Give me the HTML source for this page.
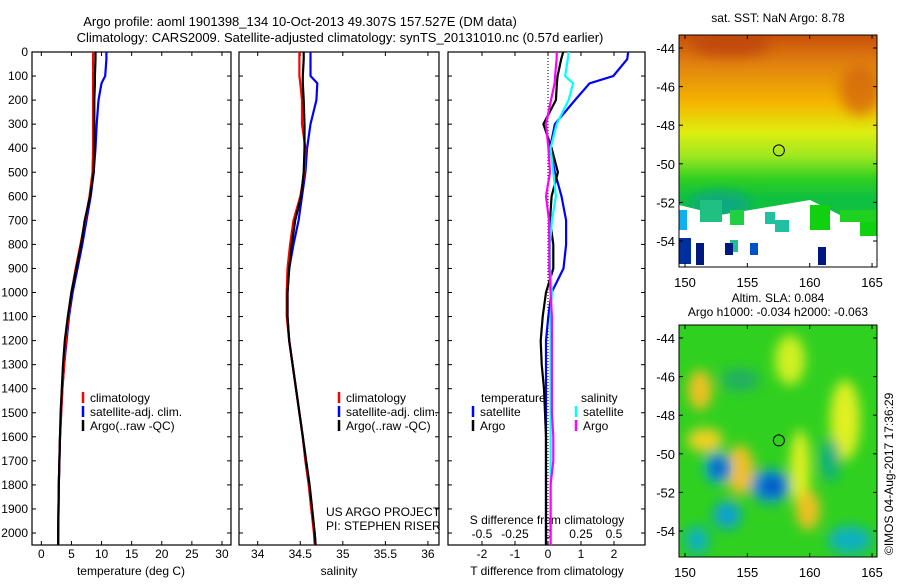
<!DOCTYPE html>
<html><head><meta charset="utf-8"><style>
body{margin:0;background:#fff;width:900px;height:580px;overflow:hidden}
svg{font-family:"Liberation Sans",sans-serif;font-size:12px}
</style></head><body>
<svg id="s" width="900" height="580" viewBox="0 0 900 580">
<defs>
<linearGradient id="sstg" x1="0" y1="0" x2="0" y2="1">
<stop offset="0" stop-color="#c8500a"/><stop offset="0.12" stop-color="#e08010"/><stop offset="0.3" stop-color="#f5b800"/><stop offset="0.42" stop-color="#ddee10"/><stop offset="0.52" stop-color="#a0e820"/><stop offset="0.62" stop-color="#30d020"/><stop offset="0.7" stop-color="#10c040"/>
</linearGradient>
<filter id="bl" x="-50%" y="-50%" width="200%" height="200%"><feGaussianBlur stdDeviation="6"/></filter>
<clipPath id="c1"><rect x="679" y="35" width="198" height="232"/></clipPath>
<clipPath id="c2"><rect x="679" y="325" width="198" height="232"/></clipPath>
</defs>
<text x="300" y="26" text-anchor="middle" font-size="13">Argo profile: aoml 1901398_134 10-Oct-2013 49.307S 157.527E (DM data)</text>
<text x="340" y="42" text-anchor="middle" font-size="13">Climatology: CARS2009. Satellite-adjusted climatology: synTS_20131010.nc (0.57d earlier)</text>
<g id="g"></g>
<g clip-path="url(#c1)">
<rect x="679" y="35" width="198" height="232" fill="url(#sstg)"/>
<ellipse cx="730" cy="45" rx="40" ry="12" fill="#b83a08" opacity="0.6" filter="url(#bl)"/>
<ellipse cx="860" cy="90" rx="20" ry="25" fill="#d06010" opacity="0.7" filter="url(#bl)"/>
<ellipse cx="720" cy="205" rx="30" ry="14" fill="#10a880" filter="url(#bl)"/>
<path d="M679 205 L720 215 L780 205 L810 200 L840 215 L877 210 L877 267 L679 267 Z" fill="#fff"/>
<rect x="679" y="210" width="8" height="20" fill="#10b0f0"/>
<rect x="700" y="200" width="22" height="22" fill="#20c080"/>
<rect x="730" y="210" width="14" height="15" fill="#20d040"/>
<rect x="765" y="212" width="10" height="12" fill="#20c0a0"/>
<rect x="775" y="220" width="14" height="12" fill="#20c0a0"/>
<rect x="810" y="205" width="20" height="25" fill="#10d010"/>
<rect x="840" y="210" width="37" height="12" fill="#20d020"/>
<rect x="860" y="222" width="17" height="14" fill="#10d010"/>
<rect x="730" y="240" width="8" height="12" fill="#20c090"/>
<rect x="679" y="238" width="12" height="26" fill="#0030a0"/>
<rect x="696" y="243" width="8" height="22" fill="#001880"/>
<rect x="725" y="243" width="8" height="12" fill="#001880"/>
<rect x="750" y="243" width="8" height="12" fill="#0050c8"/>
<rect x="818" y="247" width="8" height="18" fill="#001880"/>
</g>
<g clip-path="url(#c2)">
<rect x="679" y="325" width="198" height="232" fill="#30d020"/>
<g filter="url(#bl)">
<ellipse cx="700" cy="390" rx="12" ry="20" fill="#f0c020"/>
<ellipse cx="705" cy="440" rx="18" ry="12" fill="#f0d020"/>
<ellipse cx="740" cy="470" rx="14" ry="25" fill="#f0c020"/>
<ellipse cx="800" cy="470" rx="10" ry="40" fill="#e0f020"/>
<ellipse cx="808" cy="510" rx="12" ry="20" fill="#f0c020"/>
<ellipse cx="845" cy="420" rx="15" ry="40" fill="#e0f020"/>
<ellipse cx="790" cy="360" rx="15" ry="25" fill="#d0f020"/>
<ellipse cx="718" cy="468" rx="14" ry="16" fill="#10a0d0"/>
<ellipse cx="770" cy="486" rx="20" ry="17" fill="#1090d0"/>
<ellipse cx="727" cy="515" rx="14" ry="14" fill="#10a0d0"/>
<ellipse cx="697" cy="540" rx="12" ry="14" fill="#10b0c0"/>
<ellipse cx="850" cy="540" rx="22" ry="14" fill="#10b0c0"/>
<ellipse cx="830" cy="460" rx="10" ry="22" fill="#10b080"/>
<ellipse cx="740" cy="380" rx="20" ry="12" fill="#20b060"/>
</g>
<ellipse cx="719" cy="468" rx="6" ry="7" fill="#0040c0" filter="url(#bl)"/>
<ellipse cx="772" cy="486" rx="9" ry="7" fill="#0040c0" filter="url(#bl)"/>
</g>
<text x="778" y="22" text-anchor="middle">sat. SST: NaN Argo: 8.78</text>
<text x="778" y="302" text-anchor="middle">Altim. SLA: 0.084</text>
<text x="778" y="316" text-anchor="middle">Argo h1000: -0.034 h2000: -0.063</text>
<text transform="translate(893,555) rotate(-90)">©IMOS 04-Aug-2017 17:36:29</text>
</svg>
<script>
// ---- data ----
const depthTicks=[0,100,200,300,400,500,600,700,800,900,1000,1100,1200,1300,1400,1500,1600,1700,1800,1900,2000];
const tTicks=[0,5,10,15,20,25,30];
const sTicks=[34,34.5,35,35.5,36];
const dTTicks=[-2,-1,0,1,2];
const dSTicks=[-0.5,-0.25,0,0.25,0.5];
const dSLabels=["-0.5","-0.25","0","0.25","0.5"];
const depths=[0,30,100,130,200,300,400,500,600,700,800,900,1000,1100,1200,1300,1400,1500,1600,1700,1800,1900,2000,2050];
const tClim=[8.6,8.6,8.6,8.6,8.6,8.6,8.6,8.5,8.0,7.3,6.5,5.7,5.0,4.5,4.1,3.8,3.5,3.3,3.1,3.0,2.9,2.85,2.8,2.8];
const tSat=[10.8,10.8,10.6,10.0,9.5,9.2,9.0,8.7,8.2,7.5,6.8,6.0,5.2,4.6,4.2,3.8,3.5,3.3,3.1,3.0,2.9,2.85,2.8,2.8];
const tArgo=[9.0,9.0,8.9,8.9,8.8,8.8,8.8,8.7,8.1,7.2,6.6,5.8,5.0,4.4,3.9,3.6,3.4,3.2,3.1,3.0,2.9,2.85,2.8,2.8];
const sClim=[34.49,34.49,34.49,34.50,34.52,34.52,34.56,34.55,34.50,34.42,34.38,34.35,34.34,34.34,34.37,34.41,34.45,34.49,34.53,34.56,34.6,34.63,34.66,34.67];
const sSat=[34.62,34.62,34.62,34.70,34.69,34.62,34.58,34.56,34.52,34.48,34.42,34.37,34.35,34.35,34.37,34.41,34.45,34.49,34.53,34.56,34.6,34.63,34.67,34.68];
const sArgo=[34.54,34.54,34.53,34.53,34.54,34.55,34.55,34.54,34.51,34.44,34.40,34.37,34.35,34.35,34.37,34.41,34.45,34.49,34.53,34.57,34.61,34.64,34.67,34.68];
const dTSat=[2.43,2.4,1.98,1.26,0.82,0.21,0.06,0.21,0.41,0.55,0.55,0.47,0.11,0.01,-0.06,-0.06,-0.06,-0.06,-0.06,-0.06,-0.06,-0.06,-0.06,-0.06];
const dTArgo=[0.46,0.4,0.29,0.27,0.24,-0.14,0.11,0.3,0.11,0.06,0.16,0.16,-0.06,-0.16,-0.22,-0.19,-0.12,-0.09,-0.06,-0.06,-0.06,-0.06,-0.06,-0.06];
const dSSat=[0.156,0.15,0.13,0.19,0.156,0.065,0.02,0.04,0.06,0.03,0.015,0.015,0.03,0.02,0.02,0.02,0.02,0.02,0.02,0.02,0.02,0.02,0.02,0.02];
const dSArgo=[0.067,0.065,0.054,0.05,0.023,-0.015,0.003,0.015,-0.015,0.008,0.01,0.01,0.02,0.03,0.03,0.03,0.03,0.03,0.04,0.04,0.02,0.02,0.02,0.02];
const lonTicks=[150,155,160,165];
const latTicks=[-44,-46,-48,-50,-52,-54];
// ---- axes ----
const NS="http://www.w3.org/2000/svg";
const g=document.getElementById('g');
function mk(t,a,p){const e=document.createElementNS(NS,t);for(const k in a)e.setAttribute(k,a[k]);(p||g).appendChild(e);return e;}
const Y0=52,Y1=545;
const yD=d=>Y0+d*0.2405;
const P=[{x0:32,x1:231,v0:-1.55,v1:31.5},{x0:239,x1:439,v0:33.78,v1:36.13},{x0:448,x1:645,v0:-3.03,v1:2.94}];
const sx=(p,v)=>p.x0+(v-p.v0)/(p.v1-p.v0)*(p.x1-p.x0);
const sxS=v=>sx(P[2],v*4);
P.forEach((p,i)=>{
 const r=mk('rect',{x:p.x0,y:Y0,width:p.x1-p.x0,height:Y1-Y0,fill:'none',stroke:'#000','stroke-width':1.2});
 
 
 depthTicks.forEach(d=>{const y=yD(d);mk('line',{x1:p.x0,x2:p.x0+4,y1:y,y2:y,stroke:'#000'});mk('line',{x1:p.x1,x2:p.x1-4,y1:y,y2:y,stroke:'#000'});});
});
depthTicks.forEach(d=>{const t=mk('text',{x:28,y:yD(d)+4,'text-anchor':'end'});t.textContent=d;
 
 });
function xt(p,ticks,labs,fn,y){ticks.forEach((v,i)=>{const x=fn(v);mk('line',{x1:x,x2:x,y1:Y1,y2:Y1-4,stroke:'#000'});mk('line',{x1:x,x2:x,y1:Y0,y2:Y0+4,stroke:'#000'});
 const t=mk('text',{x:x,y:y,'text-anchor':'middle'});t.textContent=labs?labs[i]:v;
 
 });}
xt(P[0],tTicks,null,v=>sx(P[0],v),558);
xt(P[1],sTicks,null,v=>sx(P[1],v),558);
xt(P[2],dTTicks,null,v=>sx(P[2],v),558);
dSTicks.forEach((v,i)=>{const t=mk('text',{x:sxS(v),y:538,'text-anchor':'middle'});t.textContent=dSLabels[i];
 
 });
function lbl(x,y,s,n,a){const t=mk('text',{x:x,y:y,'text-anchor':a||'middle'});t.textContent=s;
 
 return t;}
lbl(131,575,'temperature (deg C)','temp-axis-title');
lbl(339,575,'salinity','salinity-axis-title');
lbl(547,575,'T difference from climatology','t-diff-axis-title');
lbl(547,524,'S difference from climatology','s-diff-axis-title');
lbl(326,516,'US ARGO PROJECT','project-label','start');
lbl(326,530,'PI: STEPHEN RISER','pi-label','start');
const zl=mk('line',{x1:sx(P[2],0),x2:sx(P[2],0),y1:Y0,y2:Y1,stroke:'#000','stroke-dasharray':'1,2'});


function line(vals,fn,col,n){const pts=vals.map((v,i)=>fn(v).toFixed(1)+','+yD(depths[i]).toFixed(1)).join(' ');
 const e=mk('polyline',{points:pts,fill:'none',stroke:col,'stroke-width':2.2});
 
 }
line(tSat,v=>sx(P[0],v),'#0000ff','temp-satellite-line');
line(tClim,v=>sx(P[0],v),'#ff0000','temp-climatology-line');
line(tArgo,v=>sx(P[0],v),'#000','temp-argo-line');
line(sSat,v=>sx(P[1],v),'#0000ff','sal-satellite-line');
line(sClim,v=>sx(P[1],v),'#ff0000','sal-climatology-line');
line(sArgo,v=>sx(P[1],v),'#000','sal-argo-line');
line(dTSat,v=>sx(P[2],v),'#0000ff','tdiff-satellite-line');
line(dTArgo,v=>sx(P[2],v),'#000','tdiff-argo-line');
line(dSSat,sxS,'#00ffff','sdiff-satellite-line');
line(dSArgo,sxS,'#ff00ff','sdiff-argo-line');
function leg(x,y,col,s,n){const l=mk('line',{x1:x,x2:x,y1:y-10,y2:y+1,stroke:col,'stroke-width':2.5});
 
 
 lbl(x+7,y,s,n,'start');}
[['#ff0000','climatology'],['#0000ff','satellite-adj. clim.'],['#000','Argo(..raw -QC)']].forEach((a,i)=>{leg(83,402+i*14,a[0],a[1],'legend-temp-'+i);leg(339,402+i*14,a[0],a[1],'legend-sal-'+i);});
lbl(481,402,'temperature','legend-temp-header','start');
lbl(581,402,'salinity','legend-sal-header','start');
leg(473,416,'#0000ff','satellite','legend-tdiff-sat');
leg(473,430,'#000','Argo','legend-tdiff-argo');
leg(576,416,'#00ffff','satellite','legend-sdiff-sat');
leg(576,430,'#ff00ff','Argo','legend-sdiff-argo');
const svg=document.getElementById('s');
[[35,'sst'],[325,'sla']].forEach(([top,n])=>{
 const lx=v=>685+(v-150)*12.47;
 const f=mk('rect',{x:679,y:top,width:198,height:232,fill:'none',stroke:'#000'},svg);
 
 
 lonTicks.forEach(v=>{const x=lx(v);mk('line',{x1:x,x2:x,y1:top,y2:top+4,stroke:'#000'},svg);mk('line',{x1:x,x2:x,y1:top+232,y2:top+228,stroke:'#000'},svg);
  const t=mk('text',{x:x,y:top+252,'text-anchor':'middle',style:'font-size:13px'},svg);t.textContent=v;
  
  });
 latTicks.forEach(v=>{const y=top+13+(-44-v)*19.3;mk('line',{x1:679,x2:683,y1:y,y2:y,stroke:'#000'},svg);mk('line',{x1:877,x2:873,y1:y,y2:y,stroke:'#000'},svg);
  const t=mk('text',{x:675,y:y+5,'text-anchor':'end',style:'font-size:13px'},svg);t.textContent=v;
  
  });
 const c=mk('circle',{cx:lx(157.527),cy:top+13+5.307*19.3,r:5.5,fill:'none',stroke:'#000'},svg);
 
 
});
</script>
</body></html>
